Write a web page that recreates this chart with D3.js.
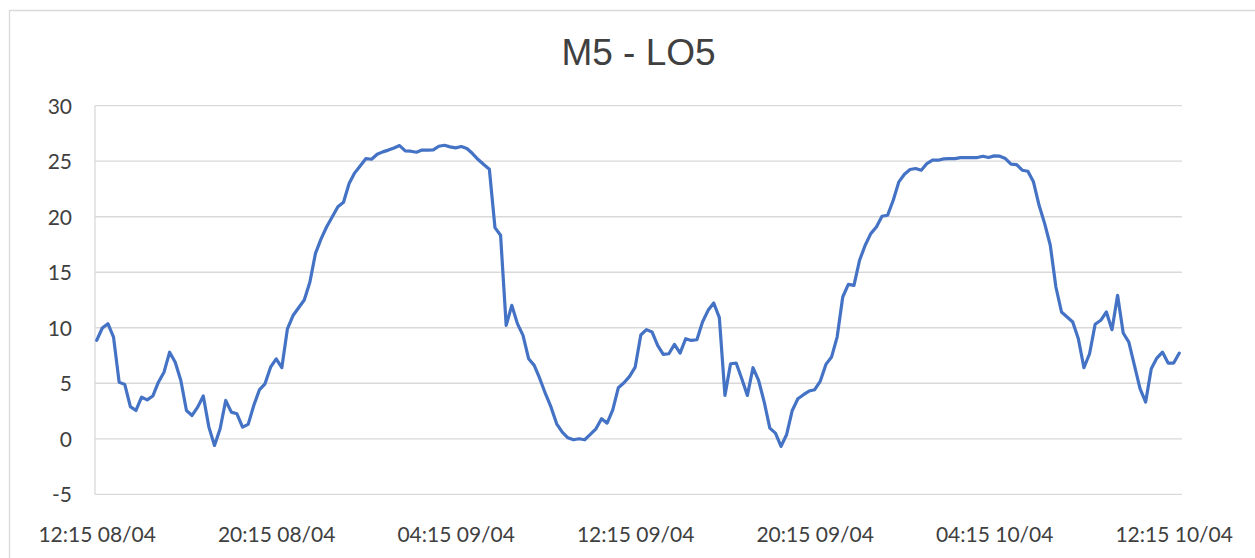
<!DOCTYPE html>
<html>
<head>
<meta charset="utf-8">
<script src="https://cdn.jsdelivr.net/npm/d3@7"></script>
<style>
  html, body { margin: 0; padding: 0; background: #fff; }
  svg { display: block; }
</style>
</head>
<body>
<svg id="chart" width="1255" height="558"></svg>
<script>
// ---- data ----
const title = "M5 - LO5";
const startTime = "2024-04-08T12:15:00";   // first reading
const stepMinutes = 15;                    // one reading every 15 minutes
const tickEvery = 32;                      // a label every 8 hours
const yTicks = [-5, 0, 5, 10, 15, 20, 25, 30];
const values = [
  8.86, 9.98, 10.37, 9.16, 5.1, 4.9, 2.9, 2.55, 3.75, 3.5,
  3.85, 5.1, 6.0, 7.8, 6.9, 5.25, 2.55, 2.1, 2.85, 3.85,
  1.05, -0.6, 0.9, 3.45, 2.4, 2.25, 1.05, 1.3, 3.0, 4.4,
  4.95, 6.45, 7.2, 6.4, 9.9, 11.1, 11.8, 12.5, 14.1, 16.7,
  18.0, 19.1, 20.0, 20.9, 21.3, 23.0, 23.95, 24.6, 25.24, 25.18,
  25.63, 25.84, 26.0, 26.2, 26.41, 25.93, 25.9, 25.81, 26.0, 26.0,
  26.02, 26.35, 26.44, 26.29, 26.2, 26.32, 26.14, 25.69, 25.15, 24.7,
  24.28, 19.02, 18.33, 10.22, 12.02, 10.37, 9.31, 7.21, 6.61, 5.41,
  4.06, 2.85, 1.35, 0.6, 0.09, -0.09, 0.0, -0.09, 0.39, 0.9,
  1.8, 1.41, 2.61, 4.6, 5.05, 5.62, 6.46, 9.35, 9.83, 9.62,
  8.41, 7.6, 7.66, 8.5, 7.72, 9.01, 8.86, 8.92, 10.52, 11.57,
  12.23, 10.91, 3.91, 6.76, 6.82, 5.41, 3.91, 6.4, 5.26, 3.31,
  0.96, 0.51, -0.69, 0.39, 2.55, 3.61, 3.97, 4.3, 4.42, 5.2,
  6.7, 7.36, 9.16, 12.77, 13.91, 13.82, 16.08, 17.43, 18.48, 19.08,
  20.04, 20.13, 21.48, 23.14, 23.83, 24.25, 24.34, 24.19, 24.79, 25.09,
  25.09, 25.21, 25.24, 25.24, 25.33, 25.33, 25.33, 25.33, 25.45, 25.33,
  25.48, 25.45, 25.24, 24.73, 24.7, 24.19, 24.1, 23.14, 21.03, 19.38,
  17.43, 13.67, 11.42, 10.97, 10.52, 9.01, 6.4, 7.66, 10.31, 10.67,
  11.42, 9.83, 12.92, 9.53, 8.71, 6.61, 4.51, 3.31, 6.31, 7.27,
  7.81, 6.82, 6.82, 7.72
];

// categories (timestamps) built from the start time and sampling step
const fmt = d3.timeFormat("%H:%M %d/%m");
const t0 = new Date(startTime);
const categories = values.map((_, i) => fmt(d3.timeMinute.offset(t0, i * stepMinutes)));
const tickLabels = categories.filter((_, i) => i % tickEvery === 0);

// ---- layout ----
const svg = d3.select("#chart");
const plot = { left: 95, right: 1182, top: 105.7, bottom: 494.3 };

// chart frame (top & left edges visible in the crop)
svg.append("path")
  .attr("d", `M9.5,558 L9.5,10.5 L1255,10.5`)
  .attr("fill", "none").attr("stroke", "#d9d9d9").attr("stroke-width", 1.3);

const x = d3.scalePoint().domain(categories).range([96.7, 1179.3]);
const y = d3.scaleLinear().domain([-5, 30]).range([plot.bottom, plot.top]);

// gridlines
svg.append("g").selectAll("line").data(yTicks).join("line")
  .attr("x1", plot.left).attr("x2", plot.right)
  .attr("y1", d => y(d)).attr("y2", d => y(d))
  .attr("stroke", "#d9d9d9").attr("stroke-width", 1.3);

// vertical axis line
svg.append("line")
  .attr("x1", plot.left).attr("x2", plot.left)
  .attr("y1", plot.top).attr("y2", plot.bottom)
  .attr("stroke", "#d9d9d9").attr("stroke-width", 1.3);

// y axis labels
const yAxis = svg.append("g")
  .attr("transform", `translate(${72},0)`)
  .call(d3.axisLeft(y).tickValues(yTicks).tickSize(0).tickPadding(0).tickFormat(d => String(d)));
yAxis.select(".domain").remove();
yAxis.selectAll("text")
  .attr("font-family", "Lato, 'Open Sans', sans-serif")
  .attr("font-size", 21).attr("fill", "#404040").attr("dy", "0.36em");

// x axis labels
const xAxis = svg.append("g")
  .attr("transform", `translate(0,${520})`)
  .call(d3.axisBottom(x).tickValues(tickLabels).tickSize(0).tickPadding(0));
xAxis.select(".domain").remove();
xAxis.selectAll("text")
  .attr("font-family", "Lato, 'Open Sans', sans-serif")
  .attr("font-size", 21).attr("fill", "#404040").attr("dy", "1.05em");

// title
svg.append("text")
  .attr("x", 638.5).attr("y", 65)
  .attr("text-anchor", "middle")
  .attr("font-family", "'Liberation Sans', Arial, sans-serif")
  .attr("font-size", 37).attr("fill", "#404040")
  .text(title);

// series line
const line = d3.line()
  .x((d, i) => x(categories[i]))
  .y(d => y(d));
svg.append("path")
  .datum(values)
  .attr("d", line)
  .attr("fill", "none")
  .attr("stroke", "#4472C4")
  .attr("stroke-width", 3.2)
  .attr("stroke-linejoin", "round")
  .attr("stroke-linecap", "round");
</script>
</body>
</html>
